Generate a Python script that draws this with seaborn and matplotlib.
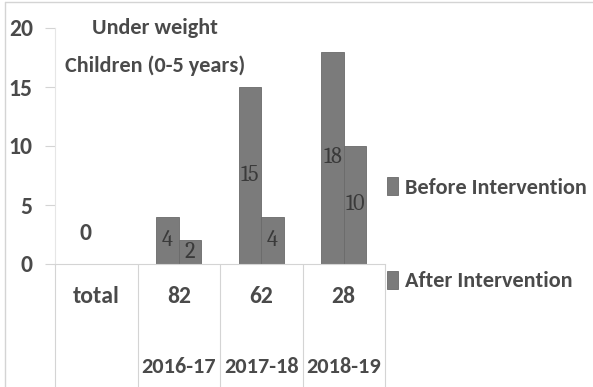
import matplotlib
matplotlib.use("Agg")
import matplotlib.pyplot as plt
import matplotlib.transforms as mtransforms
from matplotlib.lines import Line2D
import seaborn as sns
import pandas as pd

# Category labels (two-level axis) and series values
groups = ["total", "82", "62", "28"]
years = ["", "2016-17", "2017-18", "2018-19"]
series = ["Before Intervention", "After Intervention"]
before = [0, 4, 15, 18]
after = [0, 2, 4, 10]
yticks = [0, 5, 10, 15, 20]

BAR = "#7b7b7b"
TEXT = "#4a4a4a"
LIGHT = "#d4d4d4"
FS = 16
SANS = ["Carlito", "DejaVu Sans"]
SERIF = ["Caladea", "DejaVu Serif"]

sns.set_theme(style="white")
plt.rcParams["font.family"] = SANS

df = pd.DataFrame({
    "group": groups * 2,
    "value": before + after,
    "series": [series[0]] * len(groups) + [series[1]] * len(groups),
})

fig = plt.figure(figsize=(5.93, 3.87), dpi=100)
fig.patch.set_facecolor("white")
ax = fig.add_axes([55 / 593, 123 / 387, 330 / 593, 236 / 387])

sns.barplot(data=df, x="group", y="value", hue="series", order=groups,
            hue_order=series, palette=[BAR, BAR], saturation=1, width=0.54,
            edgecolor="#6a6a6a", linewidth=0.6, ax=ax)

ax.set_ylim(0, 20)
ax.set_xlim(-0.5, len(groups) - 0.5)
ax.set_xlabel("")
ax.set_ylabel("")

# Y axis: bold labels, short light tick marks
ax.set_yticks(yticks)
ax.set_yticklabels([str(t) for t in yticks], fontsize=FS + 1, fontweight="bold",
                   color=TEXT)
ax.tick_params(axis="y", length=7, width=0.8, color=LIGHT, pad=9, left=True)
ax.set_xticks([])

for s in ["top", "right"]:
    ax.spines[s].set_visible(False)
ax.spines["left"].set_color("#e6e6e6")
ax.spines["left"].set_linewidth(0.8)
ax.spines["bottom"].set_color(LIGHT)
ax.spines["bottom"].set_linewidth(0.8)

# Value labels inside the bars; zero value shown above the baseline
for container, vals in zip(ax.containers, [before, after]):
    for patch, v in zip(container.patches, vals):
        cx = patch.get_x() + patch.get_width() / 2
        if v > 0:
            ax.text(cx, v / 2, str(v), ha="center", va="center", fontsize=FS,
                    color="#3a3a3a", family=SERIF)
        elif container is ax.containers[0]:
            ax.annotate(str(v), (cx, v), xytext=(0, 22), textcoords="offset points",
                        ha="center", va="center", fontsize=FS + 1, fontweight="bold",
                        color=TEXT)

# Two-level category axis with separators
trans = mtransforms.blended_transform_factory(ax.transData, ax.transAxes)
for i, (g, yr) in enumerate(zip(groups, years)):
    ax.text(i, -0.136, g, transform=trans, ha="center", va="center",
            fontsize=FS + 1, fontweight="bold", color=TEXT, clip_on=False)
    if yr:
        ax.text(i, -0.435, yr, transform=trans, ha="center", va="center",
                fontsize=FS, fontweight="bold", color=TEXT, clip_on=False)
for xb in [i - 0.5 for i in range(len(groups) + 1)]:
    ax.add_line(Line2D([xb, xb], [0, -0.53], transform=trans, color=LIGHT,
                       lw=0.8, clip_on=False))

# Title inside the plot area
fig.text(155 / 593, 1 - 47 / 387, "Under weight\nChildren (0-5 years)",
         ha="center", va="center", fontsize=FS, fontweight="bold", color=TEXT,
         linespacing=2.0)

# Legend to the right
leg = ax.legend(loc="upper left", bbox_to_anchor=(387 / 593, 1 - 177 / 387),
                bbox_transform=fig.transFigure, frameon=False, fontsize=FS,
                handlelength=0.5, handleheight=0.85, handletextpad=0.3,
                labelspacing=3.3, borderpad=0, borderaxespad=0)
for t in leg.get_texts():
    t.set_fontweight("bold")
    t.set_color(TEXT)

# Light frame lines along the chart edge
fig.add_artist(Line2D([0.008, 0.008], [0, 0.995], transform=fig.transFigure,
                      color=LIGHT, lw=1))
fig.add_artist(Line2D([0.008, 1], [0.995, 0.995], transform=fig.transFigure,
                      color=LIGHT, lw=1))

fig.savefig("out.png", dpi=100, facecolor="white")
